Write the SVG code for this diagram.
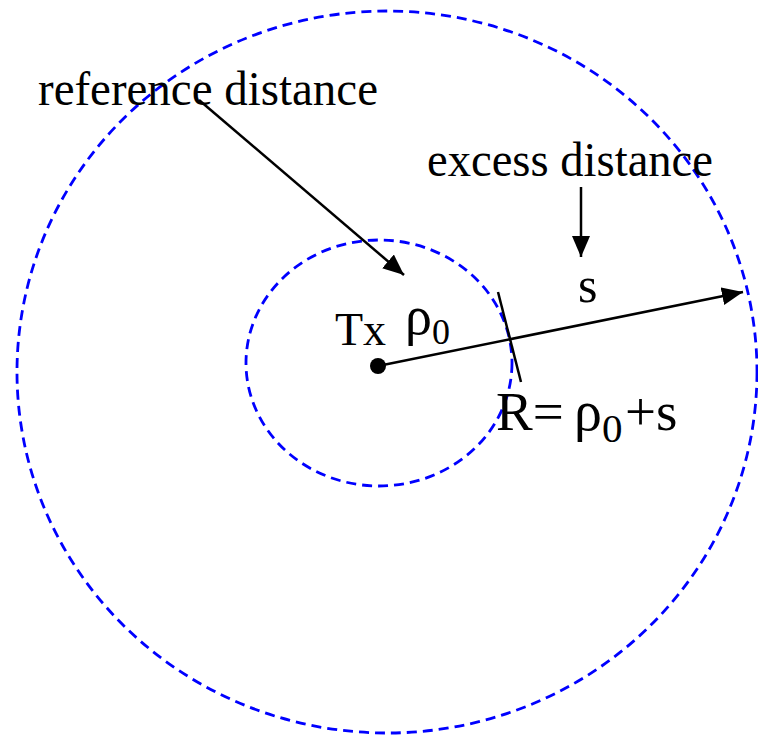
<svg xmlns="http://www.w3.org/2000/svg" width="758" height="736" viewBox="0 0 758 736">
<style>
.ring{fill:none;stroke:#0000ff;stroke-width:2.8;stroke-dasharray:10 6}
.ln{fill:none;stroke:#000;stroke-width:2.5}
.t{font-family:"Liberation Serif","Times New Roman",serif;fill:#000}
</style>
<defs>
<marker id="ah" markerUnits="userSpaceOnUse" markerWidth="24" markerHeight="20" refX="21" refY="9" orient="auto">
<path d="M0,0 L21,9 L0,18 Z" fill="#000"/>
</marker>
</defs>
<rect width="758" height="736" fill="#fff"/>
<g id="outer-circle"><ellipse class="ring" cx="387" cy="372" rx="370" ry="361"/></g>
<g id="inner-circle"><ellipse class="ring" cx="379" cy="363" rx="133" ry="123"/></g>
<g id="tx"><circle cx="378" cy="366" r="8" fill="#000"/><text class="t" x="335" y="345" font-size="46">Tx</text></g>
<g id="connectors">
<line class="ln" x1="378" y1="366" x2="743" y2="292" marker-end="url(#ah)"/>
<line class="ln" x1="498" y1="292" x2="521" y2="382"/>
<line class="ln" x1="581" y1="187" x2="581" y2="257" marker-end="url(#ah)"/>
<line class="ln" x1="199" y1="100" x2="404" y2="275" marker-end="url(#ah)"/>
</g>
<g id="labels">
<text class="t" x="38" y="105" font-size="48" textLength="340" lengthAdjust="spacingAndGlyphs">reference distance</text>
<text class="t" x="427" y="176" font-size="48" textLength="286" lengthAdjust="spacingAndGlyphs">excess distance</text>
<text class="t" x="578" y="302" font-size="50">s</text>
<text class="t" x="405" y="334" font-size="54">ρ</text>
<text class="t" x="432" y="344" font-size="36">0</text>
<text class="t" x="496" y="430" font-size="55">R=</text>
<text class="t" x="574" y="430" font-size="56">ρ</text>
<text class="t" x="602" y="442" font-size="41">0</text>
<text class="t" x="625" y="430" font-size="55">+s</text>
</g>
</svg>
